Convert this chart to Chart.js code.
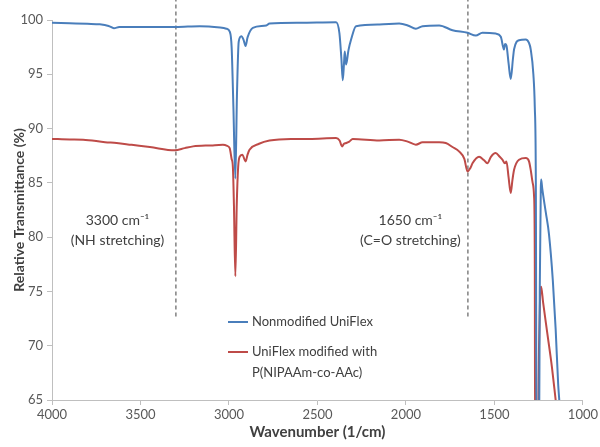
<!DOCTYPE html>
<html>
<head>
<meta charset="utf-8">
<script src="https://cdn.jsdelivr.net/npm/chart.js@4/dist/chart.umd.min.js"></script>
<style>
  html, body { margin: 0; padding: 0; background: #fff; }
  #wrap { width: 600px; height: 447px; }
</style>
</head>
<body>
<div id="wrap"><canvas id="chart"></canvas></div>
<script>
// spectra (wavenumber in 1/cm, transmittance in %)
const nonmodWavenumber = [4000, 3900, 3800, 3730, 3680, 3650, 3620, 3550, 3400, 3300, 3165, 3050, 3015, 2995, 2985, 2975, 2964, 2955, 2945, 2930, 2918, 2906, 2895, 2865, 2789, 2771, 2600, 2395, 2376, 2365, 2357, 2350, 2346, 2342, 2338, 2325, 2310, 2282, 2150, 2038, 1990, 1944, 1906, 1812, 1737, 1652, 1605, 1568, 1493, 1464, 1446, 1440, 1432, 1420, 1408, 1395, 1389, 1361, 1323, 1305, 1295, 1280, 1272, 1266, 1262, 1248, 1244, 1238, 1236, 1230, 1210, 1192, 1170, 1154, 1140, 1135, 1120];
const nonmodTransmittance = [99.75, 99.7, 99.65, 99.6, 99.45, 99.25, 99.35, 99.35, 99.35, 99.35, 99.43, 99.3, 99.2, 98.9, 97.5, 92, 85.4, 93, 98.0, 98.5, 98.2, 97.6, 98.4, 99.28, 99.49, 99.68, 99.75, 99.8, 98.8, 96.5, 94.45, 96.0, 97.1, 96.5, 95.9, 97.2, 98.2, 99.43, 99.58, 99.67, 99.5, 99.19, 99.43, 99.5, 99.06, 98.82, 98.57, 98.82, 98.75, 98.45, 97.28, 97.8, 97.65, 96, 94.57, 96.5, 97.3, 98.14, 98.2, 97.9, 97.3, 95, 92, 85, 60, 60, 75, 84.5, 85.3, 84.5, 82.3, 80.3, 76, 71.5, 66.5, 65.3, 62];

const modWavenumber = [4000, 3900, 3824, 3700, 3635, 3550, 3447, 3306, 3250, 3203, 3100, 3034, 3010, 2996, 2985, 2978, 2972, 2964, 2956, 2948, 2940, 2925, 2906, 2895, 2884, 2830, 2771, 2650, 2546, 2395, 2375, 2361, 2350, 2338, 2320, 2301, 2150, 2038, 1990, 1944, 1906, 1812, 1775, 1737, 1700, 1670, 1652, 1635, 1624, 1587, 1560, 1540, 1520, 1493, 1470, 1455, 1441, 1432, 1420, 1408, 1398, 1389, 1361, 1323, 1305, 1295, 1284, 1276, 1272, 1270, 1256, 1248, 1242, 1236, 1225, 1200, 1175, 1154, 1140];
const modTransmittance = [89.05, 89.0, 88.98, 88.75, 88.67, 88.5, 88.3, 88.0, 88.2, 88.36, 88.45, 88.5, 88.4, 88.2, 87.2, 86.5, 83, 76.4, 83, 86.5, 87.4, 87.6, 86.97, 87.6, 88.05, 88.6, 88.9, 89.05, 89.04, 89.13, 88.9, 88.36, 88.6, 88.67, 88.8, 89.04, 88.9, 88.98, 88.8, 88.52, 88.73, 88.73, 88.67, 88.3, 87.9, 87.2, 86.05, 86.4, 86.8, 87.4, 87.1, 86.8, 87.4, 87.75, 87.4, 87.13, 86.8, 86.97, 85.5, 84.06, 85.3, 86.2, 87.13, 87.28, 87.0, 86.2, 85, 83.75, 78, 60, 60, 70, 74.5, 75.44, 74, 71, 68, 65, 63];

const seriesNames = [['Nonmodified UniFlex'], ['UniFlex modified with', 'P(NIPAAm-co-AAc)']];
const seriesColors = ['#4a7ebb', '#be4b48'];

// dashed marker lines and their notes
const markerWavenumbers = [3300, 1650];
const markerBottom = 72.7;
const markerTop = 102;
const noteLines = [['3300 cm\u207B\u00B9', '(NH stretching)'], ['1650 cm\u207B\u00B9', '(C=O stretching)']];
const noteWavenumbers = [3630, 1975];
const noteTransmittance = 81.5;

const xTicks = [4000, 3500, 3000, 2500, 2000, 1500, 1000];
const yTicks = [65, 70, 75, 80, 85, 90, 95, 100];

const FONT = 'Lato, "Open Sans", sans-serif';
const TEXT = '#404040';
const AXIS = '#bfbfbf';

function toPoints(xs, ys) {
    return xs.map((x, i) => ({ x: x, y: ys[i] }));
}

const markerSets = markerWavenumbers.map(w => ({
    label: 'marker',
    data: [{ x: w, y: markerBottom }, { x: w, y: markerTop }],
    borderColor: '#808080',
    borderWidth: 1.5,
    borderDash: [4, 3],
    pointRadius: 0,
    clip: false,
    order: 5
}));

const notesAndLegend = {
    id: 'notesAndLegend',
    afterDatasetsDraw(chart) {
        const ctx = chart.ctx;
        const xs = chart.scales.x;
        const ys = chart.scales.y;
        ctx.save();
        ctx.fillStyle = TEXT;
        ctx.font = '14px ' + FONT;
        ctx.textAlign = 'center';
        ctx.textBaseline = 'middle';
        noteLines.forEach((lines, i) => {
            const px = xs.getPixelForValue(noteWavenumbers[i]);
            const py = ys.getPixelForValue(noteTransmittance);
            lines.forEach((t, j) => ctx.fillText(t, px, py + j * 20));
        });

        // legend inside plot
        const lx = 228;
        let ly = 322;
        ctx.font = '13px ' + FONT;
        ctx.textAlign = 'left';
        seriesNames.forEach((lines, i) => {
            ctx.strokeStyle = seriesColors[i];
            ctx.lineWidth = 2;
            ctx.beginPath();
            ctx.moveTo(lx, ly);
            ctx.lineTo(lx + 20, ly);
            ctx.stroke();
            lines.forEach((t, j) => ctx.fillText(t, lx + 24, ly + j * 21));
            ly += 30;
        });
        ctx.restore();
    }
};

new Chart(document.getElementById('chart'), {
    type: 'line',
    data: {
        datasets: [
            {
                label: seriesNames[0].join(' '),
                data: toPoints(nonmodWavenumber, nonmodTransmittance),
                borderColor: seriesColors[0],
                borderWidth: 2,
                pointRadius: 0,
                cubicInterpolationMode: 'monotone',
                order: 1
            },
            {
                label: seriesNames[1].join(' '),
                data: toPoints(modWavenumber, modTransmittance),
                borderColor: seriesColors[1],
                borderWidth: 2,
                pointRadius: 0,
                cubicInterpolationMode: 'monotone',
                order: 2
            }
        ].concat(markerSets)
    },
    options: {
        responsive: true,
        maintainAspectRatio: false,
        animation: false,
        layout: { padding: { top: 20, right: 16, left: 0, bottom: 0 } },
        plugins: {
            legend: { display: false },
            tooltip: { enabled: false }
        },
        scales: {
            x: {
                type: 'linear',
                reverse: true,
                min: 1000,
                max: 4000,
                afterBuildTicks: s => { s.ticks = xTicks.map(v => ({ value: v })); },
                afterFit: s => { s.height = 47; },
                grid: { drawOnChartArea: false, drawTicks: true, tickLength: 5, color: AXIS },
                border: { display: true, color: AXIS, width: 1 },
                ticks: {
                    color: '#595959',
                    font: { family: FONT, size: 13 },
                    padding: 2,
                    maxRotation: 0,
                    callback: v => String(v)
                },
                title: {
                    display: true,
                    text: 'Wavenumber (1/cm)',
                    color: TEXT,
                    font: { family: FONT, size: 15, weight: 'bold' },
                    padding: { top: 0, bottom: 6 }
                }
            },
            y: {
                min: 65,
                max: 100,
                afterBuildTicks: s => { s.ticks = yTicks.map(v => ({ value: v })); },
                afterFit: s => { s.width = 52; },
                grid: { drawOnChartArea: false, drawTicks: true, tickLength: 5, color: AXIS },
                border: { display: true, color: AXIS, width: 1 },
                ticks: {
                    color: '#595959',
                    font: { family: FONT, size: 13 },
                    padding: 4,
                    callback: v => String(v)
                },
                title: {
                    display: true,
                    text: 'Relative Transmittance (%)',
                    color: TEXT,
                    font: { family: FONT, size: 14, weight: 'bold' },
                    padding: { top: 11, bottom: 0 }
                }
            }
        }
    },
    plugins: [notesAndLegend]
});
</script>
</body>
</html>
